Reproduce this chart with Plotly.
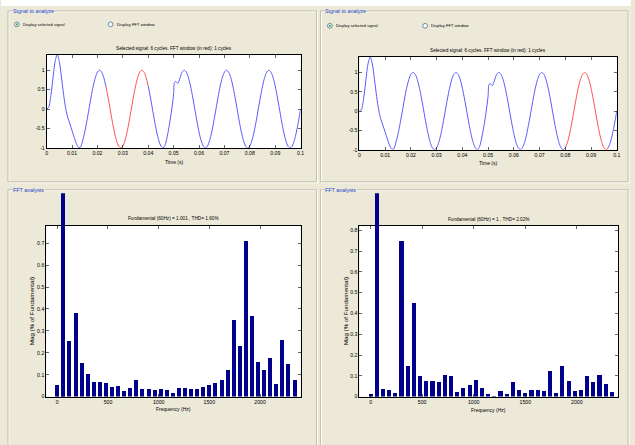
import plotly.graph_objects as go

W, H = 635, 445

# ---------------- data ----------------
time_ms = [
    0.00, 0.83, 1.67, 2.50, 3.33, 4.17, 5.00, 5.83, 6.67, 7.50,
    8.33, 9.17, 10.00, 10.83, 11.67, 12.50, 13.33, 14.17, 15.00, 15.83,
    16.67, 17.50, 18.33, 19.17, 20.00, 20.83, 21.67, 22.50, 23.33, 24.17,
    25.00, 25.83, 26.67, 27.50, 28.33, 29.17, 30.00, 30.83, 31.67, 32.50,
    33.33, 34.17, 35.00, 35.83, 36.67, 37.50, 38.33, 39.17, 40.00, 40.83,
    41.67, 42.50, 43.33, 44.17, 45.00, 45.83, 46.67, 47.50, 48.33, 49.17,
    50.00, 50.30, 50.83, 51.67, 52.10, 52.50, 53.33, 54.17, 55.00, 55.83,
    56.67, 57.50, 58.33, 59.17, 60.00, 60.83, 61.67, 62.50, 63.33, 64.17,
    65.00, 65.83, 66.67, 67.50, 68.33, 69.17, 70.00, 70.83, 71.67, 72.50,
    73.33, 74.17, 75.00, 75.83, 76.67, 77.50, 78.33, 79.17, 80.00, 80.83,
    81.67, 82.50, 83.33, 84.17, 85.00, 85.83, 86.67, 87.50, 88.33, 89.17,
    90.00, 90.83, 91.67, 92.50, 93.33, 94.17, 95.00, 95.83, 96.67, 97.50,
    98.33, 99.17, 100.00,
]
signal = [
    0.00, 0.05, 0.35, 0.80, 1.22, 1.40, 1.22, 0.82, 0.38, 0.02,
    -0.22, -0.38, -0.55, -0.72, -0.88, -0.98, -0.98, -0.81, -0.59, -0.31,
    0.00, 0.31, 0.59, 0.81, 0.95, 1.00, 0.95, 0.81, 0.59, 0.31,
    0.00, -0.31, -0.59, -0.81, -0.95, -1.00, -0.95, -0.81, -0.59, -0.31,
    0.00, 0.31, 0.59, 0.81, 0.95, 1.00, 0.95, 0.81, 0.59, 0.31,
    0.00, -0.31, -0.59, -0.81, -0.95, -1.00, -0.92, -0.70, -0.40, -0.05,
    0.40, 0.68, 0.71, 0.66, 0.72, 0.80, 0.95, 1.00, 0.95, 0.81,
    0.59, 0.31, 0.00, -0.31, -0.59, -0.81, -0.95, -1.00, -0.95, -0.81,
    -0.59, -0.31, 0.00, 0.31, 0.59, 0.81, 0.95, 1.00, 0.95, 0.81,
    0.59, 0.31, 0.00, -0.31, -0.59, -0.81, -0.95, -1.00, -0.95, -0.81,
    -0.59, -0.31, 0.00, 0.31, 0.59, 0.81, 0.95, 1.00, 0.95, 0.81,
    0.59, 0.31, 0.00, -0.31, -0.59, -0.81, -0.95, -1.00, -0.95, -0.81,
    -0.59, -0.31, 0.00,
]
fft_window_left_ms = [23.33, 40.00]
fft_window_right_ms = [80.00, 96.67]

harmonic_freq_hz = [
    0, 60, 120, 180, 240, 300, 360, 420, 480, 540,
    600, 660, 720, 780, 840, 900, 960, 1020, 1080, 1140,
    1200, 1260, 1320, 1380, 1440, 1500, 1560, 1620, 1680, 1740,
    1800, 1860, 1920, 1980, 2040, 2100, 2160, 2220, 2280, 2340,
]
mag_left = [
    0.055, 100.0, 0.252, 0.382, 0.153, 0.105, 0.068, 0.065, 0.064, 0.042,
    0.047, 0.027, 0.038, 0.074, 0.033, 0.033, 0.032, 0.033, 0.032, 0.015,
    0.041, 0.039, 0.036, 0.033, 0.042, 0.055, 0.064, 0.076, 0.121, 0.349,
    0.232, 0.709, 0.367, 0.157, 0.120, 0.175, 0.057, 0.258, 0.147, 0.075,
]
mag_right = [
    0.013, 100.0, 0.035, 0.033, 0.016, 0.747, 0.145, 0.450, 0.097, 0.075,
    0.076, 0.072, 0.103, 0.097, 0.021, 0.041, 0.057, 0.081, 0.040, 0.013,
    0.005, 0.027, 0.013, 0.072, 0.030, 0.016, 0.030, 0.033, 0.027, 0.124,
    0.017, 0.145, 0.076, 0.025, 0.033, 0.099, 0.072, 0.105, 0.059, 0.024,
]
fundamental_index = 1

time_ticks = [0, 0.01, 0.02, 0.03, 0.04, 0.05, 0.06, 0.07, 0.08, 0.09, 0.1]
time_tick_labels = ["0", "0.01", "0.02", "0.03", "0.04", "0.05", "0.06", "0.07", "0.08", "0.09", "0.1"]
sig_ticks = [-1, -0.5, 0, 0.5, 1]
sig_tick_labels = ["-1", "-0.5", "0", "0.5", "1"]
freq_ticks = [0, 500, 1000, 1500, 2000]
freq_tick_labels = ["0", "500", "1000", "1500", "2000"]
mag_ticks_left = [0, 0.1, 0.2, 0.3, 0.4, 0.5, 0.6, 0.7]
mag_ticks_right = [0, 0.1, 0.2, 0.3, 0.4, 0.5, 0.6, 0.7, 0.8]

sig_title = "Selected signal: 6 cycles. FFT window (in red): 1 cycles"
fft_title_left = "Fundamental (60Hz) = 1.001 , THD= 1.60%"
fft_title_right = "Fundamental (60Hz) = 1 , THD= 2.02%"

# ---------------- helpers ----------------
def px(x):
    return x / W

def py(y):
    return 1 - y / H

FONT = "Liberation Sans, Arial, sans-serif"
BG = "#ECE9D8"
BLUE_LINE = "rgb(90,90,255)"
RED_LINE = "rgb(255,80,80)"
BAR = "#00008C"

t_s = [t / 1000 for t in time_ms]

def window_pts(win):
    xs, ys = [], []
    for t, v in zip(time_ms, signal):
        if win[0] - 1e-6 <= t <= win[1] + 1e-6:
            xs.append(t / 1000)
            ys.append(v)
    return xs, ys

def outside_pts(win):
    ys = []
    for t, v in zip(time_ms, signal):
        ys.append(None if win[0] + 1e-6 < t < win[1] - 1e-6 else v)
    return ys

fig = go.Figure()

# axes geometry in pixels (x0, x1, ytop, ybottom)
geo = {
    1: (46, 302, 55, 149),
    2: (361.3, 620.7, 57.3, 150.7),
    3: (45.7, 302, 227.3, 399.3),
    4: (361.3, 622, 227.3, 399.3),
}
clip_top = 194.5

# signal traces
for ax, win in ((1, fft_window_left_ms), (2, fft_window_right_ms)):
    xr = "x" if ax == 1 else f"x{ax}"
    yr = "y" if ax == 1 else f"y{ax}"
    fig.add_trace(go.Scatter(x=t_s, y=outside_pts(win), mode="lines", xaxis=xr, yaxis=yr,
                             connectgaps=False,
                             line=dict(color=BLUE_LINE, width=1, shape="spline", smoothing=0.8),
                             hoverinfo="skip", showlegend=False))
    wx, wy = window_pts(win)
    fig.add_trace(go.Scatter(x=wx, y=wy, mode="lines", xaxis=xr, yaxis=yr,
                             line=dict(color=RED_LINE, width=1, shape="spline", smoothing=0.8),
                             hoverinfo="skip", showlegend=False))

# bar traces
BW = 40
for ax, helper, mags in ((3, 5, mag_left), (4, 6, mag_right)):
    fig.add_trace(go.Bar(x=harmonic_freq_hz, y=mags, width=BW, xaxis=f"x{ax}", yaxis=f"y{ax}",
                         marker=dict(color=BAR, line=dict(width=0)), showlegend=False,
                         hoverinfo="skip"))
    fig.add_trace(go.Bar(x=[harmonic_freq_hz[fundamental_index]], y=[mags[fundamental_index]],
                         width=BW, xaxis=f"x{helper}", yaxis=f"y{helper}",
                         marker=dict(color=BAR, line=dict(width=0)), showlegend=False,
                         hoverinfo="skip"))

def harmonics_max(mags):
    return max(v for i, v in enumerate(mags) if i != fundamental_index)

ymax_left = 1.1 * harmonics_max(mag_left)
ymax_right = 1.1 * harmonics_max(mag_right)

axis_common = dict(showline=True, linecolor="black", linewidth=1, mirror="ticks",
                   ticks="inside", ticklen=3, tickwidth=0.6, tickcolor="black",
                   showgrid=False, zeroline=False, fixedrange=True,
                   tickfont=dict(family=FONT, size=5.2, color="black"))

layout = {}
sig_range = [min(signal), max(signal)]
for ax in (1, 2):
    x0, x1, yt, yb = geo[ax]
    key = "" if ax == 1 else str(ax)
    layout[f"xaxis{key}"] = dict(axis_common, domain=[px(x0), px(x1)], range=[0, 0.1],
                                 tickvals=time_ticks, ticktext=time_tick_labels,
                                 anchor=f"y{key}" if key else "y")
    layout[f"yaxis{key}"] = dict(axis_common, domain=[py(yb), py(yt)], range=sig_range,
                                 tickvals=sig_ticks, ticktext=sig_tick_labels,
                                 anchor=f"x{key}" if key else "x")

freq_range = [-108, 2400]
for ax, helper, ymax, mticks in ((3, 5, ymax_left, mag_ticks_left), (4, 6, ymax_right, mag_ticks_right)):
    x0, x1, yt, yb = geo[ax]
    layout[f"xaxis{ax}"] = dict(axis_common, domain=[px(x0), px(x1)], range=freq_range,
                                tickvals=freq_ticks, ticktext=freq_tick_labels, anchor=f"y{ax}")
    layout[f"yaxis{ax}"] = dict(axis_common, domain=[py(yb), py(yt)], range=[0, ymax],
                                tickvals=mticks, ticktext=[f"{v:g}" for v in mticks],
                                anchor=f"x{ax}")
    hscale = (yb - clip_top) / (yb - yt)
    layout[f"xaxis{helper}"] = dict(domain=[px(x0), px(x1)], range=freq_range, visible=False,
                                    anchor=f"y{helper}", fixedrange=True)
    layout[f"yaxis{helper}"] = dict(domain=[py(yb), py(clip_top)], range=[0, ymax * hscale],
                                    visible=False, anchor=f"x{helper}", fixedrange=True)

shapes = []
# white strip at the top
shapes.append(dict(type="rect", xref="paper", yref="paper", x0=0, x1=1, y0=py(6), y1=1,
                   fillcolor="white", line=dict(width=0), layer="below"))
# group-box frames
frames = [(7, 318, 11, 183), (322, 632, 11, 183), (7, 318, 191, 452), (322, 632, 191, 452)]
for (fx0, fx1, fy0, fy1) in frames:
    shapes.append(dict(type="rect", xref="paper", yref="paper",
                       x0=px(fx0 + 1), x1=px(fx1 + 1), y0=py(fy1 + 1), y1=py(fy0 + 1),
                       line=dict(color="white", width=1), layer="below"))
    shapes.append(dict(type="rect", xref="paper", yref="paper",
                       x0=px(fx0), x1=px(fx1), y0=py(fy1), y1=py(fy0),
                       line=dict(color="#C2BFAE", width=1), layer="below"))
# white axes backgrounds
for ax in (1, 2, 3, 4):
    key = "" if ax == 1 else str(ax)
    shapes.append(dict(type="rect", xref=f"x{key} domain", yref=f"y{key} domain",
                       x0=0, x1=1, y0=0, y1=1, fillcolor="white", line=dict(width=0),
                       layer="below"))
# radio buttons
radios = [(16, 24.5, True), (110.5, 24.5, False), (331.5, 26, True), (427.5, 26, False)]
for (cx, cy, sel) in radios:
    r = 2.4
    shapes.append(dict(type="circle", xref="paper", yref="paper",
                       x0=px(cx - r), x1=px(cx + r), y0=py(cy + r), y1=py(cy - r),
                       fillcolor="white", line=dict(color="#2F5E8C", width=0.7)))
    if sel:
        r2 = 1.1
        shapes.append(dict(type="circle", xref="paper", yref="paper",
                           x0=px(cx - r2), x1=px(cx + r2), y0=py(cy + r2), y1=py(cy - r2),
                           fillcolor="#2DA83A", line=dict(width=0)))

annotations = []

def ann(text, x, y, xanchor="center", yanchor="middle", size=5, color="black", angle=0, bg=None):
    d = dict(text=text, x=px(x), y=py(y), xref="paper", yref="paper", showarrow=False,
             xanchor=xanchor, yanchor=yanchor, textangle=angle,
             font=dict(family=FONT, size=size, color=color))
    if bg:
        d["bgcolor"] = bg
        d["borderpad"] = 0
    annotations.append(d)

GB = "#1F45D0"
ann("Signal to analyze", 11, 11, xanchor="left", color=GB, bg=BG, size=5.4)
ann("Signal to analyze", 326, 11, xanchor="left", color=GB, bg=BG, size=5.4)
ann("FFT analysis", 11, 191, xanchor="left", color=GB, bg=BG, size=5.4)
ann("FFT analysis", 326, 191, xanchor="left", color=GB, bg=BG, size=5.4)
ann("Display selected signal", 20.5, 24.5, xanchor="left", size=4.1)
ann("Display FFT window", 114.5, 24.5, xanchor="left", size=4.2)
ann("Display selected signal", 335.5, 26, xanchor="left", size=4.1)
ann("Display FFT window", 431.5, 26, xanchor="left", size=4.2)

ann(sig_title, (geo[1][0] + geo[1][1]) / 2, 49, size=4.7)
ann(sig_title, (geo[2][0] + geo[2][1]) / 2, 50.7, size=4.7)
ann("Time (s)", (geo[1][0] + geo[1][1]) / 2, 163.3)
ann("Time (s)", (geo[2][0] + geo[2][1]) / 2, 164)
ann(fft_title_left, (geo[3][0] + geo[3][1]) / 2, 220, size=4.7)
ann(fft_title_right, (geo[4][0] + geo[4][1]) / 2, 220.7, size=4.7)
ann("Frequency (Hz)", (geo[3][0] + geo[3][1]) / 2, 412)
ann("Frequency (Hz)", (geo[4][0] + geo[4][1]) / 2, 412.7)
ann("Mag (% of Fundamental)", 31.5, 313, angle=-90, size=6.2)
ann("Mag (% of Fundamental)", 348, 313, angle=-90, size=6.2)

fig.update_layout(
    width=W, height=H, autosize=False,
    margin=dict(l=0, r=0, t=0, b=0, pad=0),
    paper_bgcolor=BG, plot_bgcolor="rgba(0,0,0,0)",
    font=dict(family=FONT, size=5, color="black"),
    barmode="overlay", bargap=0,
    shapes=shapes, annotations=annotations,
    showlegend=False,
    **layout,
)

fig.write_html("out.html", config={"displayModeBar": False, "staticPlot": True},
               post_script="document.body.style.margin='0';")
